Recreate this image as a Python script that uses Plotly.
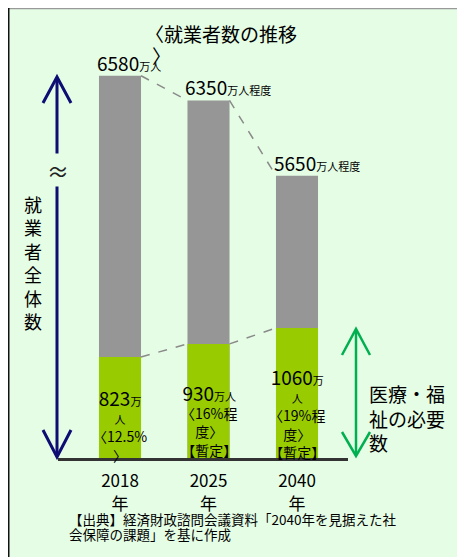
import plotly.graph_objects as go

# ---------------- data ----------------
years = ["2018", "2025", "2040"]
year_suffix = "年"
total_workers = [6580, 6350, 5650]           # 万人
total_suffix = ["万人", "万人程度", "万人程度"]
medical_workers = [823, 930, 1060]           # 万人
medical_labels = [
    "{v}<span style='font-size:11px'>万</span><br><span style='font-size:11px'>人</span><br>〈12.5%<br>〉",
    "{v}<span style='font-size:11px'>万人</span><br>〈16%程<br>度〉<br>【暫定】",
    "{v}<span style='font-size:11px'>万</span><br><span style='font-size:11px'>人</span><br>〈19%程<br>度〉<br>【暫定】",
]
title_text = "〈就業者数の推移"
title_close = "〉"
left_label = "就業者全体数"
right_label = ["医療・福", "祉の必要", "数"]
source_lines = ["【出典】経済財政諮問会議資料「2040年を見据えた社", "会保障の課題」を基に作成"]

# ---------------- layout geometry ----------------
OFF = 8                      # page body margin
W, H = 465 - OFF, 557 - OFF  # figure size in the window
# plot area in screen pixels
SL, SR, ST, SB = 58, 348, 40, 458
L, R, T, B = SL - OFF, SR - OFF, ST - OFF, SB - OFF
FONT = "Noto Sans CJK JP"
BG = "#E5FDE5"
GRAY = "#969696"
GREEN = "#99CC00"
BAR_W = 0.475

def xp(px):  # screen px -> paper
    return (px - SL) / (SR - SL)

def yp(py):
    return (SB - py) / (SB - ST)

idx = list(range(len(years)))

fig = go.Figure()
# total workers (broken axis y)
fig.add_trace(go.Bar(x=idx, y=total_workers, width=BAR_W, marker_color=GRAY,
                     marker_line_width=0, yaxis="y", hoverinfo="skip"))
# medical/welfare workers (y2)
fig.add_trace(go.Bar(x=idx, y=medical_workers, width=BAR_W, marker_color=GREEN,
                     marker_line_width=0, yaxis="y2", hoverinfo="skip"))

# dashed connectors
for i in range(len(years) - 1):
    fig.add_trace(go.Scatter(x=[idx[i] + BAR_W / 2, idx[i + 1] - BAR_W / 2],
                             y=[total_workers[i], total_workers[i + 1]], yaxis="y",
                             mode="lines", line=dict(color="#8A8A8A", width=1.5, dash="dash"),
                             hoverinfo="skip", cliponaxis=False))
    fig.add_trace(go.Scatter(x=[idx[i] + BAR_W / 2, idx[i + 1] - BAR_W / 2],
                             y=[medical_workers[i], medical_workers[i + 1]], yaxis="y2",
                             mode="lines", line=dict(color="#8A8A8A", width=1.5, dash="dash"),
                             hoverinfo="skip", cliponaxis=False))

annotations = []
# total labels
for i, v in enumerate(total_workers):
    annotations.append(dict(
        x=idx[i] - BAR_W / 2, y=v, xref="x", yref="y", xanchor="left", yanchor="bottom",
        xshift=-4, yshift=-2, showarrow=False,
        text=f"{v}<span style='font-size:11px'>{total_suffix[i]}</span>",
        font=dict(family=FONT, size=19, color="#000")))
# medical labels
med_shift = [-9, -4, -6]
for i, v in enumerate(medical_workers):
    annotations.append(dict(
        x=idx[i], y=0, xref="x", yref="y2", xanchor="center", yanchor="bottom",
        yshift=med_shift[i], showarrow=False, align="center",
        text=f"<span style='font-size:19px'>{v}</span>" + medical_labels[i].replace("{v}", ""),
        font=dict(family=FONT, size=14, color="#000")))

annotations += [
    dict(x=xp(143), y=yp(33.5), xref="paper", yref="paper", xanchor="left", yanchor="middle",
         text=title_text, showarrow=False, font=dict(family=FONT, size=19, color="#000")),
    dict(x=xp(150), y=yp(56), xref="paper", yref="paper", xanchor="left", yanchor="middle",
         text=title_close, showarrow=False, font=dict(family=FONT, size=19, color="#000")),
    dict(x=xp(32.5), y=yp(262), xref="paper", yref="paper", xanchor="center", yanchor="middle",
         text="<br>".join(left_label), showarrow=False, align="center",
         font=dict(family=FONT, size=18, color="#000")),
    dict(x=xp(58), y=yp(170), xref="paper", yref="paper", xanchor="center", yanchor="middle",
         text="≈", showarrow=False, bgcolor=BG, borderpad=0,
         font=dict(family=FONT, size=22, color="#222")),
    dict(x=xp(367), y=yp(417.5), xref="paper", yref="paper", xanchor="left", yanchor="middle",
         text="<br>".join(right_label), showarrow=False, align="left",
         font=dict(family=FONT, size=19, color="#000")),
    dict(x=xp(67), y=yp(519), xref="paper", yref="paper", xanchor="left", yanchor="middle",
         text=source_lines[0], showarrow=False, font=dict(family=FONT, size=13.5, color="#000")),
    dict(x=xp(67), y=yp(534), xref="paper", yref="paper", xanchor="left", yanchor="middle",
         text=source_lines[1], showarrow=False, font=dict(family=FONT, size=13.5, color="#000")),
]

def vpath(pts):
    return "M " + " L ".join(f"{xp(a):.5f},{yp(b):.5f}" for a, b in pts)

NAVY = "#0D0D73"
AGREEN = "#00B050"
shapes = [
    dict(type="line", xref="paper", yref="paper", x0=xp(7), x1=xp(480), y0=yp(8.5), y1=yp(8.5),
         line=dict(color="#999", width=1.5), layer="below"),
    dict(type="line", xref="paper", yref="paper", x0=xp(8.5), x1=xp(8.5), y0=yp(8), y1=yp(570),
         line=dict(color="#111", width=2), layer="below"),
    # navy double arrow
    dict(type="line", xref="paper", yref="paper", x0=xp(57), x1=xp(57), y0=yp(78), y1=yp(456),
         line=dict(color=NAVY, width=3)),
    dict(type="path", xref="paper", yref="paper", path=vpath([(43, 103), (57, 77), (71, 103)]),
         line=dict(color=NAVY, width=3)),
    dict(type="path", xref="paper", yref="paper", path=vpath([(43, 430), (57, 457), (71, 430)]),
         line=dict(color=NAVY, width=3)),
    # green double arrow
    dict(type="line", xref="paper", yref="paper", x0=xp(356), x1=xp(356), y0=yp(330), y1=yp(455),
         line=dict(color=AGREEN, width=2.5)),
    dict(type="path", xref="paper", yref="paper", path=vpath([(342, 355), (356, 329), (370, 355)]),
         line=dict(color=AGREEN, width=2.5)),
    dict(type="path", xref="paper", yref="paper", path=vpath([(342, 432), (356, 456), (370, 432)]),
         line=dict(color=AGREEN, width=2.5)),
]

fig.update_layout(
    width=W, height=H, autosize=False,
    margin=dict(l=L, r=W - R, t=T, b=H - B, pad=0),
    paper_bgcolor=BG, plot_bgcolor="rgba(0,0,0,0)",
    showlegend=False, barmode="overlay",
    font=dict(family=FONT, color="#000"),
    xaxis=dict(range=[-62 / 88.5, 2 + 51 / 88.5], tickvals=idx,
               ticktext=[f"{y}<br>{year_suffix}" for y in years],
               showline=True, linecolor="#333", linewidth=3, showgrid=False, zeroline=False,
               ticks="", ticklabelstandoff=6,
               tickfont=dict(family=FONT, size=17, color="#000"), fixedrange=True),
    yaxis=dict(range=[3025, 3025 + 418 * 9.3], visible=False, fixedrange=True),
    yaxis2=dict(range=[0, 418 * 8.15], overlaying="y", visible=False, fixedrange=True),
    annotations=annotations, shapes=shapes,
)

fig.write_html("out.html")
